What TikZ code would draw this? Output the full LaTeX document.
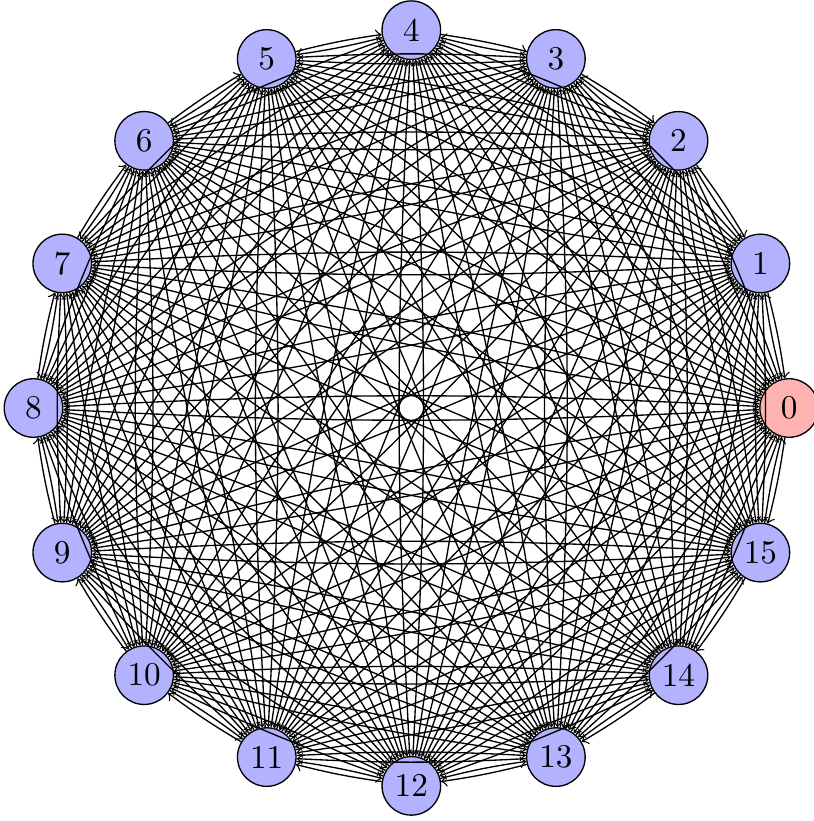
\documentclass[tikz,border=0pt]{standalone}
\usepackage{tikz}
\usetikzlibrary{calc}

\begin{document}
\begin{tikzpicture}[
    vertice/.style={circle, draw=black, fill=blue!30, inner sep=0pt,
                    minimum size=0.62cm},
    arista/.style={->, bend left=3}]

  \def\R{4cm}     % radio del círculo
  \def\N{16}      % número de vértices

  \useasboundingbox (-123.9pt,-124.4pt) rectangle (121.2pt,122.9pt);

  % ── Vértices ──────────────────────────────────────────────
  \node[vertice, fill=red!30] (v0) at (0:\R) {0};
  \foreach \i in {1,...,15}{
    \node[vertice] (v\i) at (\i*360/\N:\R) {\i};
  }

  % ── Aristas (todas contra todas) ──────────────────────────
  \foreach \i in {0,...,15}{
    \foreach \j in {1,...,15}{
      \pgfmathtruncatemacro\k{mod(\i+\j,\N)}
      \draw[arista] (v\i) to (v\k);
    }
  }

\end{tikzpicture}
\end{document}
